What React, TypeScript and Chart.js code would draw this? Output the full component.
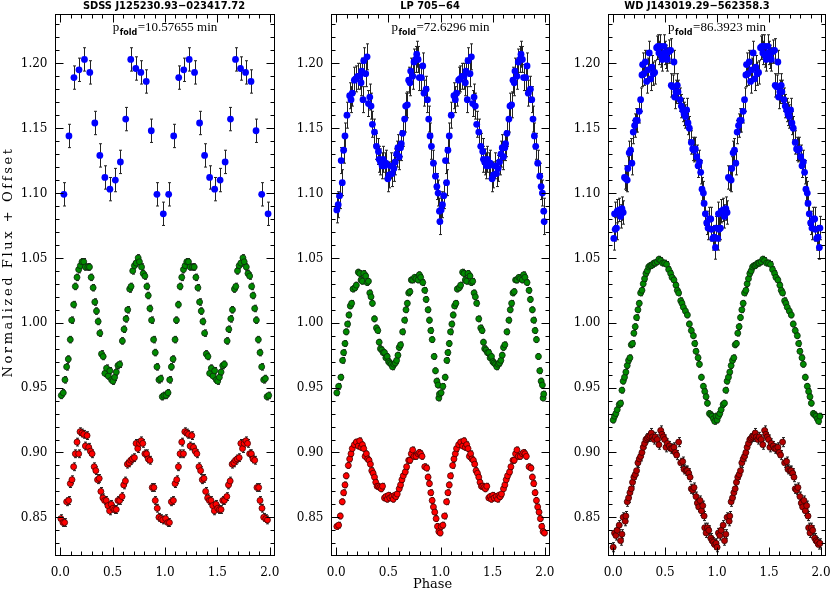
import React, { useEffect, useRef } from "react";
import { Chart, registerables } from "chart.js";

Chart.register(...registerables);

// ---------------- axes ----------------
const X_MIN = -0.05;
const X_MAX = 2.05;
const Y_MIN = 0.8202;
const Y_MAX = 1.2384;
const xTickValues = [0, 0.5, 1, 1.5, 2];
const xTickLabels = ["0.0", "0.5", "1.0", "1.5", "2.0"];
const yTickValues = [0.85, 0.9, 0.95, 1.0, 1.05, 1.1, 1.15, 1.2];
const yTickLabels = ["0.85", "0.90", "0.95", "1.00", "1.05", "1.10", "1.15", "1.20"];
const X_MINOR = 0.1;
const Y_MINOR = 0.01;

// ---------------- texts ----------------
const panelTitles = ["SDSS J125230.93\u2212023417.72", "LP 705\u221264", "WD J143019.29\u2212562358.3"];
const panelPeriods = ["10.57655", "72.6296", "86.3923"];
const xAxisTitle = "Phase";
const yAxisTitle = "Normalized Flux + Offset";

// ---------------- data: SDSS J125230.93-023417.72 ----------------
const p1BluePhase = [0.035, 0.083, 0.131, 0.179, 0.231, 0.282, 0.330, 0.378, 0.426, 0.474, 0.526, 0.574, 0.625, 0.673, 0.721, 0.769, 0.821, 0.869, 0.923, 0.984];
const p1BlueFlux = [1.099, 1.144, 1.189, 1.195, 1.203, 1.193, 1.154, 1.129, 1.112, 1.103, 1.110, 1.124, 1.157, 1.203, 1.196, 1.193, 1.186, 1.148, 1.099, 1.084];
const p1BlueErr = 0.009;

const p1GreenPhase = [0.010, 0.029, 0.045, 0.061, 0.077, 0.096, 0.109, 0.128, 0.144, 0.160, 0.176, 0.192, 0.208, 0.224, 0.240, 0.263, 0.279, 0.295, 0.314, 0.330, 0.346, 0.362, 0.378, 0.394, 0.410, 0.426, 0.442, 0.458, 0.474, 0.490, 0.503, 0.519, 0.535, 0.551, 0.567, 0.593, 0.609, 0.628, 0.644, 0.663, 0.676, 0.692, 0.708, 0.724, 0.744, 0.756, 0.776, 0.792, 0.808, 0.827, 0.840, 0.856, 0.872, 0.891, 0.907, 0.923, 0.942, 0.958, 0.974, 0.990];
const p1GreenFlux = [0.944, 0.946, 0.956, 0.966, 0.972, 0.987, 1.002, 1.014, 1.028, 1.035, 1.041, 1.044, 1.047, 1.047, 1.043, 1.043, 1.043, 1.035, 1.027, 1.016, 1.009, 1.001, 0.992, 0.976, 0.974, 0.961, 0.965, 0.959, 0.963, 0.956, 0.955, 0.958, 0.962, 0.967, 0.968, 0.986, 0.995, 1.003, 1.010, 1.026, 1.028, 1.040, 1.044, 1.046, 1.050, 1.047, 1.043, 1.038, 1.036, 1.028, 1.021, 1.011, 1.002, 0.987, 0.977, 0.966, 0.956, 0.957, 0.943, 0.944];
const p1GreenErr = 0.0025;

const p1RedPhase = [0.006, 0.026, 0.042, 0.061, 0.080, 0.096, 0.112, 0.128, 0.144, 0.160, 0.176, 0.189, 0.208, 0.224, 0.240, 0.256, 0.272, 0.288, 0.304, 0.324, 0.340, 0.356, 0.372, 0.388, 0.407, 0.423, 0.439, 0.455, 0.471, 0.487, 0.503, 0.519, 0.535, 0.551, 0.567, 0.590, 0.606, 0.622, 0.641, 0.657, 0.673, 0.689, 0.708, 0.724, 0.740, 0.756, 0.772, 0.788, 0.808, 0.824, 0.840, 0.856, 0.878, 0.894, 0.907, 0.926, 0.942, 0.962, 0.978];
const p1RedFlux = [0.849, 0.846, 0.846, 0.862, 0.863, 0.876, 0.879, 0.889, 0.899, 0.908, 0.899, 0.916, 0.915, 0.914, 0.905, 0.913, 0.904, 0.901, 0.899, 0.889, 0.886, 0.879, 0.880, 0.870, 0.865, 0.863, 0.863, 0.859, 0.855, 0.860, 0.857, 0.856, 0.856, 0.863, 0.863, 0.866, 0.875, 0.878, 0.891, 0.892, 0.894, 0.895, 0.896, 0.907, 0.903, 0.907, 0.909, 0.907, 0.899, 0.899, 0.895, 0.894, 0.873, 0.873, 0.863, 0.857, 0.850, 0.849, 0.848];
const p1RedErr = 0.003;

// ---------------- data: LP 705-64 ----------------
const p2BluePhase = [0.006, 0.019, 0.032, 0.048, 0.058, 0.071, 0.084, 0.103, 0.129, 0.142, 0.154, 0.174, 0.186, 0.206, 0.225, 0.238, 0.244, 0.257, 0.264, 0.283, 0.296, 0.309, 0.322, 0.334, 0.347, 0.367, 0.386, 0.405, 0.412, 0.424, 0.440, 0.450, 0.466, 0.476, 0.495, 0.508, 0.521, 0.537, 0.553, 0.566, 0.579, 0.592, 0.604, 0.617, 0.624, 0.637, 0.656, 0.666, 0.682, 0.695, 0.707, 0.714, 0.733, 0.746, 0.762, 0.772, 0.785, 0.797, 0.817, 0.830, 0.842, 0.862, 0.875, 0.887, 0.900, 0.913, 0.932, 0.952, 0.965, 0.977, 0.990, 0.994];
const p2BlueFlux = [1.087, 1.091, 1.098, 1.125, 1.108, 1.133, 1.144, 1.160, 1.175, 1.172, 1.177, 1.187, 1.188, 1.190, 1.190, 1.185, 1.194, 1.172, 1.202, 1.192, 1.205, 1.169, 1.174, 1.167, 1.153, 1.147, 1.136, 1.132, 1.126, 1.124, 1.121, 1.126, 1.121, 1.123, 1.111, 1.114, 1.121, 1.115, 1.119, 1.124, 1.130, 1.135, 1.128, 1.135, 1.138, 1.146, 1.157, 1.167, 1.168, 1.187, 1.185, 1.194, 1.190, 1.201, 1.203, 1.207, 1.203, 1.189, 1.189, 1.198, 1.177, 1.180, 1.172, 1.157, 1.144, 1.136, 1.123, 1.113, 1.105, 1.100, 1.086, 1.078];
const p2BlueErr = 0.010;

const p2GreenPhase = [0.006, 0.023, 0.045, 0.061, 0.071, 0.084, 0.096, 0.109, 0.122, 0.135, 0.148, 0.161, 0.180, 0.193, 0.212, 0.225, 0.238, 0.251, 0.264, 0.283, 0.296, 0.309, 0.322, 0.334, 0.347, 0.367, 0.386, 0.399, 0.412, 0.424, 0.437, 0.450, 0.463, 0.476, 0.489, 0.502, 0.514, 0.527, 0.540, 0.553, 0.566, 0.579, 0.592, 0.604, 0.617, 0.637, 0.656, 0.669, 0.682, 0.695, 0.707, 0.720, 0.733, 0.752, 0.765, 0.785, 0.797, 0.810, 0.830, 0.849, 0.862, 0.881, 0.894, 0.907, 0.920, 0.939, 0.952, 0.965, 0.977, 0.984, 0.990];
const p2GreenFlux = [0.946, 0.951, 0.958, 0.971, 0.977, 0.984, 0.993, 0.999, 1.006, 1.013, 1.015, 1.026, 1.027, 1.029, 1.039, 1.038, 1.033, 1.032, 1.038, 1.036, 1.031, 1.032, 1.023, 1.020, 1.015, 1.003, 0.996, 0.994, 0.985, 0.980, 0.979, 0.977, 0.977, 0.973, 0.974, 0.970, 0.969, 0.968, 0.966, 0.968, 0.969, 0.971, 0.975, 0.981, 0.983, 0.993, 1.002, 1.010, 1.015, 1.023, 1.024, 1.033, 1.033, 1.035, 1.034, 1.033, 1.037, 1.035, 1.031, 1.025, 1.018, 1.010, 1.002, 0.994, 0.987, 0.974, 0.963, 0.955, 0.952, 0.942, 0.945];
const p2GreenErr = 0.0022;

const p2RedPhase = [0.006, 0.023, 0.039, 0.058, 0.071, 0.084, 0.096, 0.116, 0.129, 0.142, 0.154, 0.174, 0.193, 0.212, 0.225, 0.238, 0.251, 0.264, 0.277, 0.289, 0.302, 0.315, 0.328, 0.341, 0.354, 0.367, 0.379, 0.392, 0.405, 0.418, 0.431, 0.444, 0.463, 0.476, 0.489, 0.502, 0.514, 0.534, 0.547, 0.560, 0.572, 0.585, 0.604, 0.617, 0.630, 0.643, 0.662, 0.675, 0.695, 0.707, 0.720, 0.733, 0.746, 0.765, 0.785, 0.797, 0.810, 0.823, 0.849, 0.868, 0.881, 0.894, 0.907, 0.920, 0.932, 0.945, 0.958, 0.971, 0.984, 0.997];
const p2RedFlux = [0.843, 0.844, 0.851, 0.862, 0.869, 0.875, 0.882, 0.890, 0.895, 0.899, 0.903, 0.906, 0.908, 0.905, 0.909, 0.904, 0.906, 0.903, 0.897, 0.899, 0.895, 0.894, 0.891, 0.886, 0.884, 0.881, 0.877, 0.874, 0.874, 0.873, 0.872, 0.874, 0.865, 0.866, 0.864, 0.867, 0.865, 0.866, 0.864, 0.867, 0.866, 0.868, 0.872, 0.875, 0.879, 0.882, 0.885, 0.889, 0.894, 0.894, 0.899, 0.902, 0.897, 0.897, 0.899, 0.900, 0.899, 0.897, 0.889, 0.888, 0.881, 0.876, 0.869, 0.863, 0.858, 0.854, 0.849, 0.843, 0.839, 0.838];
const p2RedErr = 0.0022;

// ---------------- data: WD J143019.29-562358.3 ----------------
const p3BluePhase = [0.006, 0.013, 0.019, 0.032, 0.039, 0.058, 0.071, 0.084, 0.096, 0.109, 0.122, 0.135, 0.141, 0.154, 0.167, 0.180, 0.193, 0.206, 0.219, 0.232, 0.251, 0.264, 0.277, 0.283, 0.296, 0.309, 0.322, 0.334, 0.347, 0.360, 0.373, 0.386, 0.399, 0.418, 0.431, 0.440, 0.450, 0.463, 0.473, 0.489, 0.495, 0.508, 0.521, 0.534, 0.553, 0.559, 0.572, 0.585, 0.592, 0.604, 0.617, 0.624, 0.643, 0.656, 0.669, 0.682, 0.695, 0.707, 0.720, 0.733, 0.752, 0.765, 0.778, 0.791, 0.804, 0.817, 0.830, 0.842, 0.855, 0.868, 0.875, 0.887, 0.900, 0.913, 0.926, 0.939, 0.945, 0.958, 0.971, 0.984, 0.990];
const p3BlueFlux = [1.065, 1.084, 1.072, 1.073, 1.086, 1.087, 1.082, 1.088, 1.085, 1.112, 1.111, 1.110, 1.119, 1.131, 1.133, 1.123, 1.147, 1.152, 1.156, 1.156, 1.163, 1.172, 1.191, 1.199, 1.192, 1.201, 1.186, 1.195, 1.208, 1.188, 1.197, 1.192, 1.193, 1.212, 1.213, 1.208, 1.213, 1.206, 1.203, 1.213, 1.208, 1.205, 1.203, 1.209, 1.210, 1.183, 1.182, 1.201, 1.174, 1.178, 1.183, 1.178, 1.172, 1.167, 1.164, 1.161, 1.159, 1.164, 1.154, 1.150, 1.139, 1.134, 1.133, 1.134, 1.128, 1.121, 1.124, 1.116, 1.103, 1.100, 1.092, 1.084, 1.077, 1.073, 1.080, 1.080, 1.072, 1.065, 1.066, 1.058, 1.073];
const p3BlueErr = 0.009;

const p3GreenPhase = [0.000, 0.013, 0.026, 0.039, 0.058, 0.071, 0.084, 0.096, 0.109, 0.122, 0.135, 0.148, 0.161, 0.174, 0.186, 0.199, 0.212, 0.225, 0.238, 0.251, 0.264, 0.277, 0.289, 0.302, 0.315, 0.328, 0.341, 0.354, 0.367, 0.379, 0.392, 0.405, 0.424, 0.440, 0.457, 0.476, 0.495, 0.514, 0.534, 0.553, 0.566, 0.585, 0.604, 0.617, 0.630, 0.650, 0.662, 0.675, 0.695, 0.714, 0.733, 0.752, 0.772, 0.785, 0.797, 0.817, 0.830, 0.849, 0.868, 0.881, 0.894, 0.907, 0.926, 0.939, 0.952, 0.965, 0.977, 0.990];
const p3GreenFlux = [0.925, 0.928, 0.930, 0.933, 0.937, 0.938, 0.948, 0.955, 0.958, 0.962, 0.967, 0.971, 0.973, 0.983, 0.984, 0.992, 0.997, 1.004, 1.010, 1.015, 1.023, 1.025, 1.030, 1.034, 1.038, 1.040, 1.043, 1.044, 1.044, 1.045, 1.046, 1.046, 1.047, 1.049, 1.048, 1.046, 1.046, 1.045, 1.041, 1.038, 1.035, 1.033, 1.029, 1.025, 1.023, 1.017, 1.015, 1.012, 1.009, 1.006, 0.999, 0.994, 0.990, 0.984, 0.978, 0.973, 0.968, 0.958, 0.951, 0.947, 0.943, 0.938, 0.930, 0.929, 0.928, 0.926, 0.924, 0.928];
const p3GreenErr = 0.0022;

const p3RedPhase = [0.000, 0.013, 0.026, 0.039, 0.058, 0.071, 0.084, 0.096, 0.116, 0.122, 0.135, 0.148, 0.161, 0.174, 0.186, 0.199, 0.212, 0.225, 0.238, 0.251, 0.264, 0.277, 0.289, 0.302, 0.315, 0.328, 0.341, 0.354, 0.367, 0.379, 0.392, 0.405, 0.424, 0.440, 0.457, 0.469, 0.482, 0.495, 0.508, 0.521, 0.540, 0.553, 0.566, 0.585, 0.598, 0.611, 0.630, 0.650, 0.669, 0.682, 0.701, 0.714, 0.727, 0.740, 0.752, 0.765, 0.778, 0.797, 0.810, 0.823, 0.836, 0.849, 0.862, 0.875, 0.881, 0.894, 0.907, 0.920, 0.939, 0.952, 0.965, 0.977, 0.990];
const p3RedFlux = [0.827, 0.838, 0.836, 0.840, 0.844, 0.832, 0.837, 0.850, 0.847, 0.851, 0.862, 0.865, 0.869, 0.872, 0.877, 0.881, 0.883, 0.886, 0.892, 0.895, 0.897, 0.900, 0.904, 0.907, 0.910, 0.911, 0.912, 0.913, 0.915, 0.912, 0.910, 0.912, 0.910, 0.906, 0.917, 0.914, 0.912, 0.910, 0.904, 0.907, 0.905, 0.903, 0.903, 0.904, 0.900, 0.898, 0.908, 0.892, 0.893, 0.887, 0.886, 0.886, 0.884, 0.881, 0.872, 0.871, 0.873, 0.866, 0.861, 0.858, 0.863, 0.855, 0.859, 0.851, 0.842, 0.838, 0.842, 0.840, 0.834, 0.832, 0.831, 0.829, 0.830];
const p3RedErr = 0.0035;

// ---------------- layout & style ----------------
const W = 830;
const H = 593;
const PLOT_TOP = 13.5;
const PLOT_BOTTOM = 556;
const panelBoxes = [
  { left: 55, right: 275, titleX: 164 },
  { left: 331, right: 550, titleX: 430 },
  { left: 608, right: 827, titleX: 697 },
];
const MAJOR_LEN = 8;
const MINOR_LEN = 4;
const TICK_FONT = '12px "DejaVu Serif", serif';
const TITLE_FONT = 'bold 11px "DejaVu Sans Condensed", "Liberation Sans Narrow", "DejaVu Sans", sans-serif';
const PERIOD_FONT = '13px "Liberation Serif", serif';
const SUB_FONT = 'bold 8px "DejaVu Sans", sans-serif';
const AXIS_TITLE_FONT = '13px "DejaVu Serif", serif';

const BLUE = { fill: "#0000ff", edge: "#0000ff", edgeWidth: 0, radius: 3.4 };
const GREEN = { fill: "#008a00", edge: "#0c2a0c", edgeWidth: 0.8, radius: 3.0 };
const RED = { fill: "#ff0000", edge: "#4a0000", edgeWidth: 0.8, radius: 3.0 };
const DARKRED = { fill: "#b40000", edge: "#3a0000", edgeWidth: 0.8, radius: 3.0 };

type Series = { phase: number[]; flux: number[]; err: number; style: typeof BLUE };

const panelSeries: Series[][] = [
  [
    { phase: p1BluePhase, flux: p1BlueFlux, err: p1BlueErr, style: BLUE },
    { phase: p1GreenPhase, flux: p1GreenFlux, err: p1GreenErr, style: GREEN },
    { phase: p1RedPhase, flux: p1RedFlux, err: p1RedErr, style: RED },
  ],
  [
    { phase: p2BluePhase, flux: p2BlueFlux, err: p2BlueErr, style: BLUE },
    { phase: p2GreenPhase, flux: p2GreenFlux, err: p2GreenErr, style: GREEN },
    { phase: p2RedPhase, flux: p2RedFlux, err: p2RedErr, style: RED },
  ],
  [
    { phase: p3BluePhase, flux: p3BlueFlux, err: p3BlueErr, style: BLUE },
    { phase: p3GreenPhase, flux: p3GreenFlux, err: p3GreenErr, style: GREEN },
    { phase: p3RedPhase, flux: p3RedFlux, err: p3RedErr, style: DARKRED },
  ],
];

// folded light curve is shown twice (phase 0-1 and 1-2)
function folded(phase: number[], flux: number[]) {
  const a = phase.map((p, i) => ({ x: p, y: flux[i] }));
  const b = phase.map((p, i) => ({ x: p + 1, y: flux[i] }));
  return a.concat(b);
}

const errorBarPlugin = {
  id: "errbars",
  beforeDatasetsDraw(chart: any) {
    const { ctx } = chart;
    const xs = chart.scales.x;
    const ys = chart.scales.y;
    ctx.save();
    ctx.strokeStyle = "#222222";
    ctx.lineWidth = 1;
    chart.data.datasets.forEach((ds: any) => {
      const e = ds.err as number;
      ctx.beginPath();
      ds.data.forEach((pt: any) => {
        const px = Math.round(xs.getPixelForValue(pt.x)) + 0.5;
        const y1 = ys.getPixelForValue(pt.y + e);
        const y2 = ys.getPixelForValue(pt.y - e);
        ctx.moveTo(px, y1);
        ctx.lineTo(px, y2);
        ctx.moveTo(px - 1.5, y1);
        ctx.lineTo(px + 1.5, y1);
        ctx.moveTo(px - 1.5, y2);
        ctx.lineTo(px + 1.5, y2);
      });
      ctx.stroke();
    });
    ctx.restore();
  },
};

function makeFramePlugin(idx: number) {
  return {
    id: "frame" + idx,
    afterDraw(chart: any) {
      const { ctx, chartArea: a } = chart;
      const xs = chart.scales.x;
      const ys = chart.scales.y;
      ctx.save();
      ctx.strokeStyle = "#000";
      ctx.lineWidth = 1;
      const L = Math.round(a.left) + 0.5;
      const R = Math.round(a.right) - 0.5;
      const T = Math.round(a.top) + 0.5;
      const B = Math.round(a.bottom) - 0.5;
      ctx.strokeRect(L, T, R - L, B - T);
      ctx.beginPath();
      const nx = Math.round((xTickValues[xTickValues.length - 1] - xTickValues[0]) / X_MINOR);
      for (let k = 0; k <= nx; k++) {
        const v = xTickValues[0] + k * X_MINOR;
        const px = Math.round(xs.getPixelForValue(v)) + 0.5;
        const len = k % 5 === 0 ? MAJOR_LEN : MINOR_LEN;
        ctx.moveTo(px, B);
        ctx.lineTo(px, B - len);
        ctx.moveTo(px, T);
        ctx.lineTo(px, T + len);
      }
      const kmin = Math.ceil(Y_MIN / Y_MINOR);
      const kmax = Math.floor(Y_MAX / Y_MINOR);
      for (let k = kmin; k <= kmax; k++) {
        const v = k * Y_MINOR;
        const py = Math.round(ys.getPixelForValue(v)) + 0.5;
        const len = k % 5 === 0 ? MAJOR_LEN : MINOR_LEN;
        ctx.moveTo(L, py);
        ctx.lineTo(L + len, py);
        ctx.moveTo(R, py);
        ctx.lineTo(R - len, py);
      }
      ctx.stroke();

      ctx.fillStyle = "#000";
      ctx.font = TICK_FONT;
      ctx.textAlign = "right";
      ctx.textBaseline = "middle";
      yTickValues.forEach((v, i) => {
        ctx.fillText(yTickLabels[i], L - 8, ys.getPixelForValue(v) + 0.5);
      });
      ctx.textAlign = "center";
      xTickValues.forEach((v, i) => {
        ctx.fillText(xTickLabels[i], xs.getPixelForValue(v), B + 17);
      });

      // panel title
      const box = panelBoxes[idx];
      ctx.font = TITLE_FONT;
      ctx.textAlign = "center";
      ctx.textBaseline = "middle";
      ctx.fillText(panelTitles[idx], box.titleX, 6.5);

      // period text: p_fold = ... min
      const cx = (a.left + a.right) / 2;
      const base = 31;
      ctx.textBaseline = "alphabetic";
      ctx.textAlign = "left";
      ctx.font = PERIOD_FONT;
      const wP = ctx.measureText("p").width;
      const rest = "=" + panelPeriods[idx] + " min";
      const wR = ctx.measureText(rest).width;
      ctx.font = SUB_FONT;
      const wS = ctx.measureText("fold").width;
      const total = wP + wS + 1 + wR;
      let x0 = cx - total / 2;
      ctx.font = PERIOD_FONT;
      ctx.fillText("p", x0, base);
      x0 += wP + 0.5;
      ctx.font = SUB_FONT;
      ctx.fillText("fold", x0, base + 4);
      x0 += wS + 0.5;
      ctx.font = PERIOD_FONT;
      ctx.fillText(rest, x0, base);

      if (idx === 1) {
        ctx.font = AXIS_TITLE_FONT;
        ctx.textAlign = "center";
        ctx.textBaseline = "middle";
        ctx.fillText(xAxisTitle, cx - 8, 585);
      }
      if (idx === 0) {
        ctx.save();
        ctx.font = AXIS_TITLE_FONT;
        (ctx as any).letterSpacing = "2.6px";
        ctx.textAlign = "center";
        ctx.textBaseline = "middle";
        ctx.translate(9, 262);
        ctx.rotate(-Math.PI / 2);
        ctx.fillText(yAxisTitle, 0, 0);
        ctx.restore();
      }
      ctx.restore();
    },
  };
}

export default function App() {
  const refs = [useRef<HTMLCanvasElement>(null), useRef<HTMLCanvasElement>(null), useRef<HTMLCanvasElement>(null)];

  useEffect(() => {
    const charts: Chart[] = [];
    panelSeries.forEach((series, idx) => {
      const canvas = refs[idx].current;
      if (!canvas) return;
      const box = panelBoxes[idx];
      const datasets = series.map((s) => ({
        data: folded(s.phase, s.flux),
        err: s.err,
        showLine: false,
        backgroundColor: s.style.fill,
        borderColor: s.style.edge,
        pointBackgroundColor: s.style.fill,
        pointBorderColor: s.style.edge,
        pointBorderWidth: s.style.edgeWidth,
        pointRadius: s.style.radius,
        pointHoverRadius: s.style.radius,
        clip: false as any,
      }));
      const chart = new Chart(canvas, {
        type: "scatter",
        data: { datasets: datasets as any },
        options: {
          animation: false,
          responsive: false,
          maintainAspectRatio: false,
          events: [],
          layout: {
            padding: { left: box.left, right: W - box.right, top: PLOT_TOP, bottom: H - PLOT_BOTTOM },
          },
          scales: {
            x: { type: "linear", min: X_MIN, max: X_MAX, display: false },
            y: { type: "linear", min: Y_MIN, max: Y_MAX, display: false },
          },
          plugins: { legend: { display: false }, tooltip: { enabled: false }, title: { display: false } },
        },
        plugins: [errorBarPlugin, makeFramePlugin(idx)],
      });
      charts.push(chart);
    });
    return () => charts.forEach((c) => c.destroy());
  }, []);

  return (
    <div style={{ position: "absolute", left: 0, top: 0, width: W, height: H, background: "#fff", overflow: "hidden" }}>
      {refs.map((r, i) => (
        <canvas
          key={i}
          ref={r}
          width={W}
          height={H}
          style={{ position: "absolute", left: 0, top: 0, width: W, height: H }}
        />
      ))}
    </div>
  );
}
